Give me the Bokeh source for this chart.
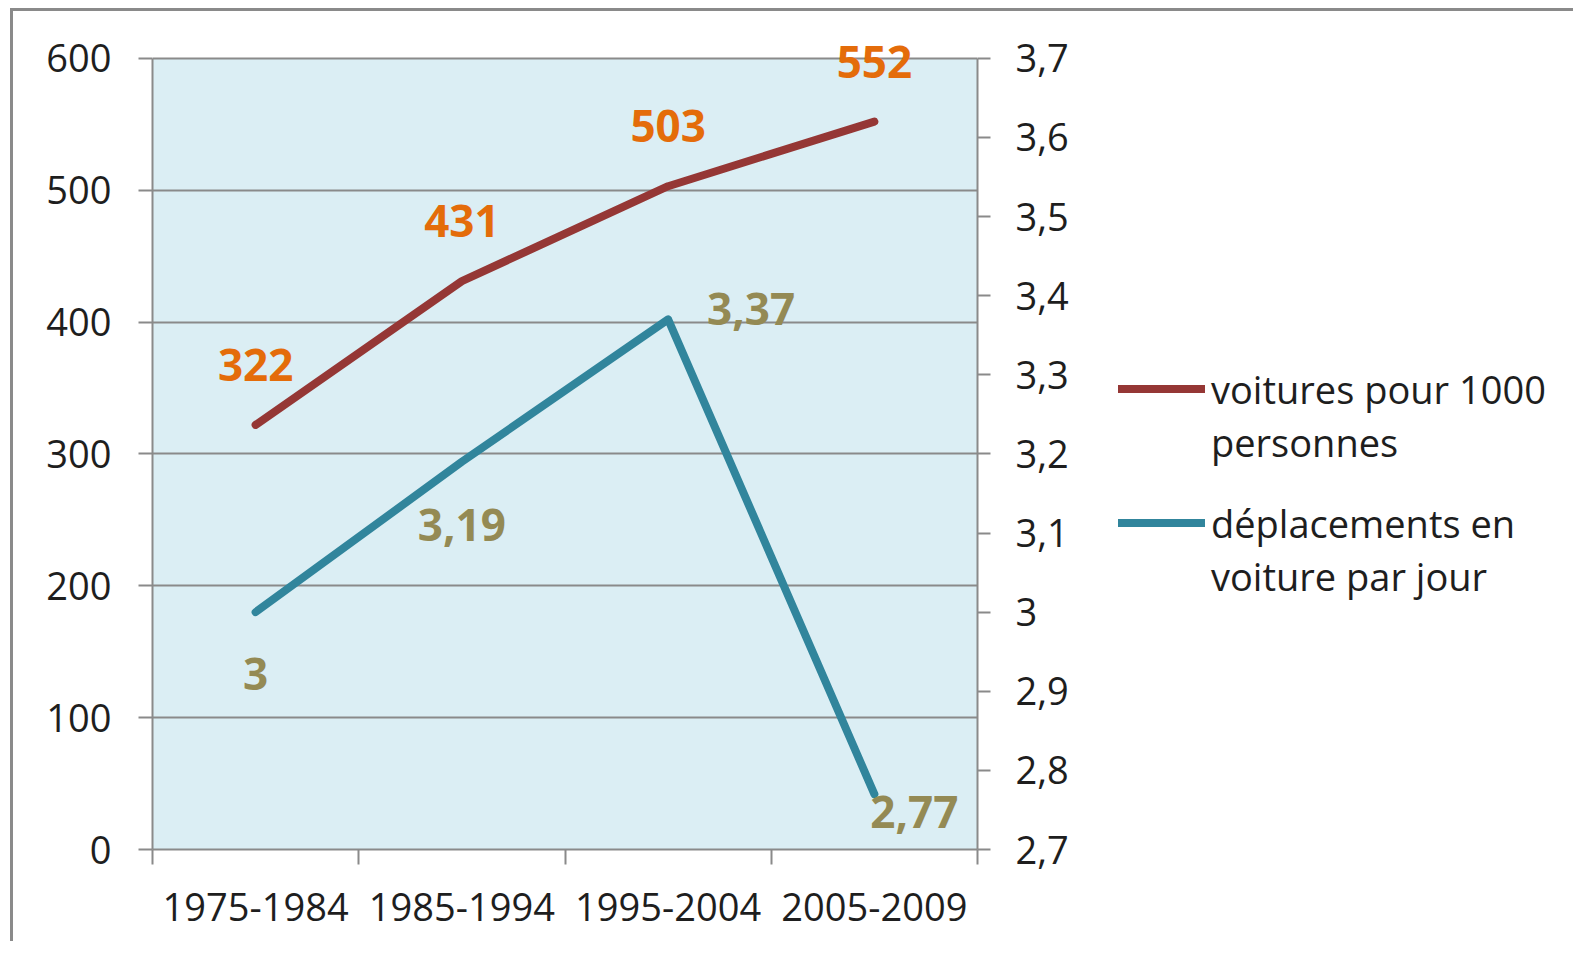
from bokeh.plotting import figure
from bokeh.layouts import row
from bokeh.models import (Range1d, LinearAxis, FixedTicker, CustomJSTickFormatter,
                          ColumnDataSource, LabelSet, Legend, LegendItem)
from bokeh.core.properties import value
from bokeh.embed import file_html
from bokeh.resources import INLINE

# ---------------- data ----------------
categories = ["1975-1984", "1985-1994", "1995-2004", "2005-2009"]
voitures = [322, 431, 503, 552]
deplacements = [3.00, 3.19, 3.37, 2.77]
voitures_labels = ["322", "431", "503", "552"]
deplacements_labels = ["3", "3,19", "3,37", "2,77"]
left_ticks = [0, 100, 200, 300, 400, 500, 600]
right_ticks = [2.7, 2.8, 2.9, 3.0, 3.1, 3.2, 3.3, 3.4, 3.5, 3.6, 3.7]
legend_voitures = ["voitures pour 1000", "personnes"]
legend_deplacements = ["déplacements en", "voiture par jour"]

# ---------------- styles ----------------
FONT = "Open Sans"
GRAY = "#8a8a8a"
TXT = "#1e1e1e"
RED = "#953735"
BLUE = "#31859C"
ORANGE = "#E46C0A"
OLIVE = "#948A54"
BG = "#DBEEF4"
HEADROOM = 0.025  # extra space above the plot area for the top data label
red_xoff = [0, 0, 0, 0]
red_yoff = [60, 60, 60, 60]
blue_xoff = [0, 0, 83, 40]
blue_yoff = [-62, -63, 10, -18]

xs = [i + 0.5 for i in range(len(categories))]
bounds = list(range(len(categories) + 1))
l0, l1 = left_ticks[0], left_ticks[-1]
r0, r1_ = right_ticks[0], right_ticks[-1]

H = 930
p = figure(width=1074, height=H,
           x_range=Range1d(0, len(categories)),
           y_range=Range1d(l0, l1 + (l1 - l0) * HEADROOM),
           output_backend="svg", toolbar_location=None,
           min_border_left=139, min_border_top=27, min_border_right=110, min_border_bottom=92,
           background_fill_color="white", border_fill_color="white",
           outline_line_color=None)
p.extra_y_ranges = {"right": Range1d(r0, r1_ + (r1_ - r0) * HEADROOM)}

# plot-area background limited to the value range
bgr = p.quad(left=[0], right=[len(categories)], bottom=[l0], top=[l1],
             fill_color=BG, line_color=None)
bgr.level = "image"

# x axis
xa = p.xaxis[0]
xa.ticker = FixedTicker(ticks=xs, minor_ticks=bounds)
xa.major_label_overrides = {x: c for x, c in zip(xs, categories)}
xa.major_tick_line_color = None
xa.major_tick_out = 0
xa.major_tick_in = 0
xa.minor_tick_out = 15
xa.minor_tick_in = 0
xa.minor_tick_line_color = GRAY
xa.minor_tick_line_width = 2
xa.axis_line_color = GRAY
xa.axis_line_width = 2
xa.major_label_text_font = FONT
xa.major_label_text_font_size = "38px"
xa.major_label_text_color = TXT
xa.major_label_standoff = 28

# left axis
ya = p.yaxis[0]
ya.ticker = FixedTicker(ticks=left_ticks)
ya.bounds = (l0, l1)
ya.major_tick_out = 14
ya.major_tick_in = 0
ya.minor_tick_line_color = None
ya.major_tick_line_color = GRAY
ya.major_tick_line_width = 2
ya.axis_line_color = GRAY
ya.axis_line_width = 2
ya.major_label_text_font = FONT
ya.major_label_text_font_size = "38px"
ya.major_label_text_color = TXT
ya.major_label_standoff = 27

# right axis
ra = LinearAxis(y_range_name="right", ticker=FixedTicker(ticks=right_ticks),
                formatter=CustomJSTickFormatter(
                    code="return (Math.round(tick*10)/10).toString().replace('.', ',');"))
ra.bounds = (r0, r1_)
ra.major_tick_out = 13
ra.major_tick_in = 0
ra.minor_tick_line_color = None
ra.major_tick_line_color = GRAY
ra.major_tick_line_width = 2
ra.axis_line_color = GRAY
ra.axis_line_width = 2
ra.major_label_text_font = FONT
ra.major_label_text_font_size = "38px"
ra.major_label_text_color = TXT
ra.major_label_standoff = 25
p.add_layout(ra, "right")

# grid
p.xgrid.visible = False
p.ygrid.ticker = FixedTicker(ticks=left_ticks)
p.ygrid.grid_line_color = GRAY
p.ygrid.grid_line_width = 2

# lines
r1 = p.line(xs, voitures, line_color=RED, line_width=8, line_cap="round", line_join="round")
r2 = p.line(xs, deplacements, y_range_name="right", line_color=BLUE, line_width=8,
            line_cap="round", line_join="round")

# data labels
src_red = ColumnDataSource(dict(x=xs, y=voitures, t=voitures_labels, xo=red_xoff, yo=red_yoff))
src_blue = ColumnDataSource(dict(x=xs, y=deplacements, t=deplacements_labels, xo=blue_xoff, yo=blue_yoff))
p.add_layout(LabelSet(x="x", y="y", text="t", x_offset="xo", y_offset="yo", source=src_red,
                      text_align="center", text_baseline="middle", text_font=value(FONT),
                      text_font_style="bold",
                      text_font_size=value("44px"), text_color=ORANGE))
p.add_layout(LabelSet(x="x", y="y", text="t", x_offset="xo", y_offset="yo", source=src_blue,
                      y_range_name="right",
                      text_align="center", text_baseline="middle", text_font=value(FONT),
                      text_font_style="bold",
                      text_font_size=value("44px"), text_color=OLIVE))

# ---------------- legend panel ----------------
LW = 486
q = figure(width=LW, height=H, x_range=Range1d(-2, -1), y_range=Range1d(-2, -1),
           x_axis_type=None, y_axis_type=None,
           output_backend="svg", toolbar_location=None,
           min_border=0, outline_line_color=None,
           background_fill_color="white", border_fill_color="white")
# legend keys (series drawn out of view; only their legend glyphs show)
k1 = q.line(xs, voitures, line_color=RED, line_width=8, line_cap="round")
k2 = q.line(xs, deplacements, line_color=BLUE, line_width=8, line_cap="round")
e1 = q.line(xs, voitures, line_alpha=0)
e2 = q.line(xs, deplacements, line_alpha=0)


def make_legend(lines, rend, dummy, loc):
    return Legend(items=[LegendItem(label=lines[0], renderers=[rend]),
                         LegendItem(label=lines[1], renderers=[dummy])],
                  location=loc, orientation="vertical", padding=0, margin=0, spacing=0,
                  border_line_color=None, background_fill_alpha=0,
                  glyph_width=87, glyph_height=53, label_height=53, label_standoff=6,
                  label_text_font=FONT, label_text_font_size="38px", label_text_color=TXT)


q.add_layout(make_legend(legend_voitures, k1, e1, (31, 381)))
q.add_layout(make_legend(legend_deplacements, k2, e2, (31, 247)))

layout = row(p, q, spacing=0)
layout.styles = {"margin-top": "8px", "margin-left": "10px",
                 "border-top": "3px solid #8a8a8a", "border-left": "3px solid #8a8a8a"}

open("out.html", "w").write(file_html(layout, INLINE))
